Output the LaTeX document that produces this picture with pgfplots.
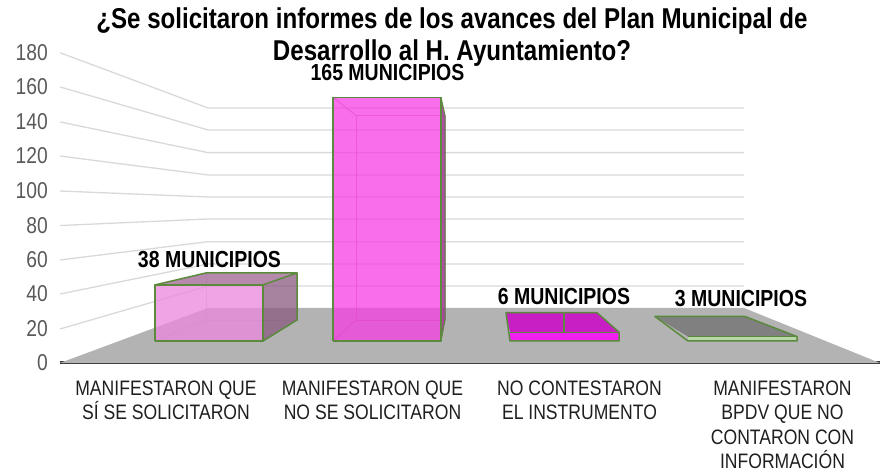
\documentclass[border=0pt]{standalone}
\usepackage{fontspec}
\setmainfont{Liberation Sans}[FakeStretch=0.84]
\usepackage{pgfplots}
\pgfplotsset{compat=1.18}
\definecolor{gridc}{HTML}{D9D9D9}
\definecolor{floorc}{HTML}{B3B3B3}
\definecolor{edgec}{HTML}{5B8A3C}
\definecolor{tickc}{HTML}{595959}
\definecolor{aF}{HTML}{EC89DE}
\definecolor{aS}{HTML}{8A5A80}
\definecolor{aT}{HTML}{A46C98}
\definecolor{bF}{HTML}{F73CE3}
\definecolor{bS}{HTML}{A53C98}
\definecolor{cF}{HTML}{F020F0}
\definecolor{cT}{HTML}{C81FC4}
\definecolor{dF}{HTML}{B9D6A8}
\definecolor{dT}{HTML}{808080}
\newcommand\poly[2]{\addplot[#1] coordinates {#2};}
\begin{document}
\begin{tikzpicture}[x=1bp,y=1bp]
\useasboundingbox (0,0) rectangle (880,473);
\begin{axis}[
  at={(60bp,110bp)}, anchor=south west,
  width=820bp, height=363bp, scale only axis,
  xmin=60, xmax=880, ymin=-14.9, ymax=231,
  clip=false,
  axis x line=bottom, axis y line=left,
  x axis line style={draw=black!75, line width=3bp, -},
  y axis line style={draw=none, -},
  major tick length=0pt, tick style={draw=none},
  xtick={166,372.5,579.5,782.5},
  xticklabels={{MANIFESTARON QUE\\SÍ SE SOLICITARON},{MANIFESTARON QUE\\NO SE SOLICITARON},{NO CONTESTARON\\EL INSTRUMENTO},{MANIFESTARON\\BPDV QUE NO\\CONTARON CON\\INFORMACIÓN}},
  xticklabel style={align=center, anchor=north, font=\fontsize{21}{24.2}\selectfont, text=black!88, yshift=-18bp, inner sep=0pt},
  ytick={-14.9,8.13,31.84,54.88,78.2,101.6,125.3,148.4,172.1,195.3},
  yticklabels={0,20,40,60,80,100,120,140,160,180},
  yticklabel style={anchor=east, font=\fontsize{23}{24}\selectfont, text=tickc, xshift=-12bp, inner sep=0pt},
  /pgf/number format/assume math mode=true,
  every axis plot/.append style={line join=round},
]
% floor
\poly{fill=floorc,draw=none}{(60,-14.9)(208,22.36)(744,22.36)(880,-14.9)(60,-14.9)}
% grid lines on the walls
\poly{gridc,line width=1.3bp}{(60,8.13)(208,37.26)(744,37.26)}
\poly{gridc,line width=1.3bp}{(60,31.84)(208,52.17)(744,52.17)}
\poly{gridc,line width=1.3bp}{(60,54.88)(208,67.28)(744,67.28)}
\poly{gridc,line width=1.3bp}{(60,78.2)(208,82.66)(744,82.66)}
\poly{gridc,line width=1.3bp}{(60,101.6)(208,97.56)(744,97.56)}
\poly{gridc,line width=1.3bp}{(60,125.3)(208,112.47)(744,112.47)}
\poly{gridc,line width=1.3bp}{(60,148.4)(208,127.6)(744,127.6)}
\poly{gridc,line width=1.3bp}{(60,172.1)(208,142.95)(744,142.95)}
\poly{gridc,line width=1.3bp}{(60,195.3)(208,157.86)(744,157.86)}
% bar 1 : 38
\poly{draw=aS,draw opacity=.25,line width=1bp}{(206,14.2)(297,14.2)(297,46.1)(206,46.1)(206,14.2)}
\poly{draw=aS,draw opacity=.25,line width=1bp}{(155,0)(206,14.2)}
\poly{fill=aS,fill opacity=.75,draw=none}{(263,0)(297,14.2)(297,46.1)(263,38)(263,0)}
\poly{fill=aT,fill opacity=.8,draw=none}{(155,38)(263,38)(297,46.1)(206,46.1)(155,38)}
\poly{fill=aF,fill opacity=.77,draw=none}{(155,0)(263,0)(263,38)(155,38)(155,0)}
\poly{draw=edgec,line width=1.5bp}{(155,0)(263,0)(263,38)(155,38)(155,0)}
\poly{draw=edgec,line width=1.5bp}{(155,38)(206,46.1)(297,46.1)(263,38)}
\poly{draw=edgec,line width=1.5bp}{(297,46.1)(297,14.2)(263,0)}
% bar 2 : 165
\poly{draw=bS,draw opacity=.45,line width=1bp}{(356,14.2)(445,14.2)(445,152.8)(356,152.8)(356,14.2)}
\poly{draw=bS,draw opacity=.45,line width=1bp}{(333,0)(356,14.2)}
\poly{draw=bS,draw opacity=.45,line width=1bp}{(333,165)(356,152.8)}
\poly{fill=bS,fill opacity=.9,draw=none}{(441,0)(445,14.2)(445,152.8)(441,165)(441,0)}
\poly{fill=bF,fill opacity=.74,draw=none}{(333,0)(441,0)(441,165)(333,165)(333,0)}
\poly{draw=edgec,line width=1.5bp}{(333,0)(441,0)(441,165)(333,165)(333,0)}
\poly{draw=edgec,line width=1bp}{(441,165)(445,152.8)(445,14.2)(441,0)}
% bar 3 : 6
\poly{fill=cT,draw=none}{(510,6)(619,6)(597,19.2)(506,19.2)(510,6)}
\poly{draw=edgec,line width=1.2bp}{(564,6)(564,19.2)}
\poly{fill=cF,draw=none}{(510,0)(619,0)(619,6)(510,6)(510,0)}
\poly{draw=edgec,line width=1.5bp}{(510,0)(619,0)(619,6)(597,19.2)(506,19.2)(510,0)}
\poly{draw=edgec,line width=1bp}{(510,6)(619,6)}
% bar 4 : 3
\poly{fill=dT,draw=none}{(688,3)(797,3)(745,16.6)(655,16.6)(688,3)}
\poly{fill=dF,draw=none}{(688,0)(797,0)(797,3)(688,3)(688,0)}
\poly{draw=edgec,line width=1.5bp}{(688,0)(797,0)(797,3)(745,16.6)(655,16.6)(688,0)}
\poly{draw=edgec,line width=1bp}{(688,3)(797,3)}
% texts
\node[font=\fontsize{28.8}{32}\bfseries\selectfont,align=center] at (axis cs:452,206)
  {¿Se solicitaron informes de los avances del Plan Municipal de\\Desarrollo al H. Ayuntamiento?};
\node[font=\fontsize{23.3}{24}\bfseries\selectfont] at (axis cs:387.5,182.2) {165 MUNICIPIOS};
\node[font=\fontsize{23.3}{24}\bfseries\selectfont] at (axis cs:209.5,54.9) {38 MUNICIPIOS};
\node[font=\fontsize{23.3}{24}\bfseries\selectfont] at (axis cs:564,29.8) {6 MUNICIPIOS};
\node[font=\fontsize{23.3}{24}\bfseries\selectfont] at (axis cs:741,28.5) {3 MUNICIPIOS};
\end{axis}
\end{tikzpicture}
\end{document}
